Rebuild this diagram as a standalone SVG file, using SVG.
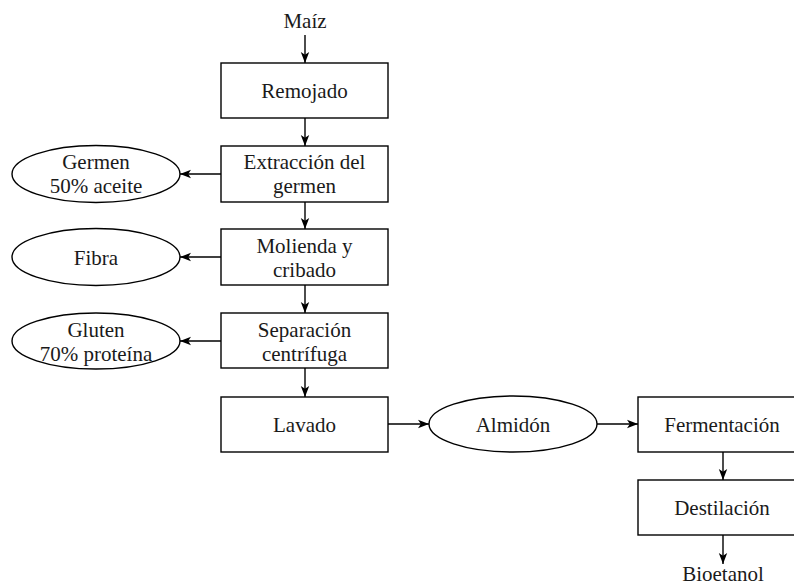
<svg xmlns="http://www.w3.org/2000/svg" width="794" height="587" viewBox="0 0 794 587">
  <style>
    .box { fill: #ffffff; stroke: #000000; stroke-width: 1.4; }
    .lbl { font-family: "Liberation Serif", "Times New Roman", serif; font-size: 21px; fill: #1a1a1a; text-anchor: middle; }
    .edge { fill: none; stroke: #000000; stroke-width: 1.4; marker-end: url(#arrow); }
  </style>
  <defs>
    <marker id="arrow" viewBox="0 0 11 10" refX="11" refY="5" markerWidth="11" markerHeight="10" markerUnits="userSpaceOnUse" orient="auto">
      <path d="M0,0.8 L11,5 L0,9.2 L2.8,5 Z" fill="#000000"/>
    </marker>
  </defs>
  <rect width="794" height="587" fill="#ffffff"/>

  <!-- connectors -->
  <g id="connectors">
    <line class="edge" x1="305" y1="35" x2="305" y2="63"/>
    <line class="edge" x1="305" y1="118" x2="305" y2="146"/>
    <line class="edge" x1="305" y1="202" x2="305" y2="229"/>
    <line class="edge" x1="305" y1="285" x2="305" y2="313"/>
    <line class="edge" x1="305" y1="368" x2="305" y2="397"/>
    <line class="edge" x1="221" y1="174" x2="180" y2="174"/>
    <line class="edge" x1="221" y1="257" x2="180" y2="257"/>
    <line class="edge" x1="221" y1="341" x2="180" y2="341"/>
    <line class="edge" x1="388" y1="424" x2="429" y2="424"/>
    <line class="edge" x1="597" y1="424" x2="638" y2="424"/>
    <line class="edge" x1="723" y1="452" x2="723" y2="480"/>
    <line class="edge" x1="723" y1="535" x2="723" y2="564"/>
  </g>

  <!-- input / output labels -->
  <g id="maiz"><text class="lbl" x="305" y="28">Maíz</text></g>
  <g id="bioetanol"><text class="lbl" x="723" y="581">Bioetanol</text></g>

  <!-- process steps -->
  <g id="remojado">
    <rect class="box" x="221" y="63" width="167" height="55"/>
    <text class="lbl" x="304.5" y="98">Remojado</text>
  </g>
  <g id="extraccion">
    <rect class="box" x="221" y="146" width="167" height="56"/>
    <text class="lbl" x="304.5" y="169">Extracción del</text>
    <text class="lbl" x="304.5" y="193">germen</text>
  </g>
  <g id="molienda">
    <rect class="box" x="221" y="229" width="167" height="56"/>
    <text class="lbl" x="304.5" y="253">Molienda y</text>
    <text class="lbl" x="304.5" y="277">cribado</text>
  </g>
  <g id="separacion">
    <rect class="box" x="221" y="313" width="167" height="55"/>
    <text class="lbl" x="304.5" y="337">Separación</text>
    <text class="lbl" x="304.5" y="361">centrífuga</text>
  </g>
  <g id="lavado">
    <rect class="box" x="221" y="397" width="167" height="55"/>
    <text class="lbl" x="304.5" y="432">Lavado</text>
  </g>
  <g id="fermentacion">
    <rect class="box" x="638" y="397" width="168" height="55"/>
    <text class="lbl" x="722" y="432">Fermentación</text>
  </g>
  <g id="destilacion">
    <rect class="box" x="638" y="480" width="168" height="55"/>
    <text class="lbl" x="722" y="515">Destilación</text>
  </g>

  <!-- by-products -->
  <g id="germen">
    <ellipse class="box" cx="96" cy="174" rx="84" ry="28.5"/>
    <text class="lbl" x="96" y="169">Germen</text>
    <text class="lbl" x="96" y="193">50% aceite</text>
  </g>
  <g id="fibra">
    <ellipse class="box" cx="96" cy="257" rx="84" ry="28.5"/>
    <text class="lbl" x="96" y="265">Fibra</text>
  </g>
  <g id="gluten">
    <ellipse class="box" cx="96" cy="341" rx="84" ry="28"/>
    <text class="lbl" x="96" y="337">Gluten</text>
    <text class="lbl" x="96" y="361">70% proteína</text>
  </g>
  <g id="almidon">
    <ellipse class="box" cx="513" cy="424" rx="84" ry="28"/>
    <text class="lbl" x="513" y="432">Almidón</text>
  </g>
</svg>
